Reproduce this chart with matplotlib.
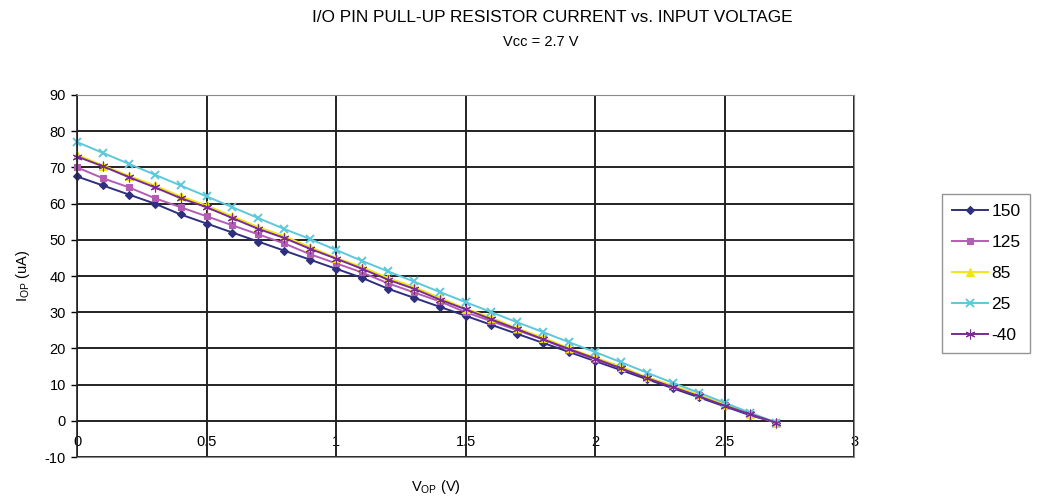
import numpy as np
import matplotlib
matplotlib.use("Agg")
import matplotlib.pyplot as plt

plt.rcParams['font.family'] = ['Liberation Sans', 'DejaVu Sans']
plt.rcParams['axes.unicode_minus'] = False

# V_OP (V), 0 .. 2.7 par pas de 0.1
v_op = [0.0, 0.1, 0.2, 0.3, 0.4, 0.5, 0.6, 0.7, 0.8, 0.9,
        1.0, 1.1, 1.2, 1.3, 1.4, 1.5, 1.6, 1.7, 1.8, 1.9,
        2.0, 2.1, 2.2, 2.3, 2.4, 2.5, 2.6, 2.7]

i_150 = [67.5, 65, 62.5, 60, 57, 54.5, 52, 49.5, 47, 44.5,
         42, 39.5, 36.5, 34, 31.5, 29, 26.5, 24, 21.5, 19,
         16.5, 14, 11.5, 9, 6.5, 4, 1.5, -0.5]
i_125 = [70, 67, 64.5, 61.5, 59, 56.5, 54, 51.5, 49, 46,
         43.5, 41, 38, 35.5, 33, 30, 27.5, 25, 22.5, 19.5,
         17, 14.5, 12, 9.5, 7, 4.3, 1.8, -0.5]
i_85 = [73.5, 70.5, 67.7, 65, 62, 59.5, 56.5, 53.5, 51, 48,
        45, 42.5, 39.5, 37, 34, 31, 28.5, 25.5, 23, 20,
        17.5, 15, 12, 9.8, 7.2, 4.5, 2, -0.5]
i_25 = [77, 74, 71, 68, 65, 62, 59, 56, 53, 50.2,
        47.2, 44.2, 41.3, 38.5, 35.6, 32.8, 30, 27.2, 24.5, 21.7,
        19, 16.2, 13.3, 10.5, 7.8, 5, 2.2, -0.5]
i_m40 = [73, 70.3, 67.3, 64.5, 61.5, 59, 56, 53, 50.5, 47.5,
         44.8, 42, 39, 36.5, 33.5, 30.8, 28, 25.3, 22.5, 19.8,
         17.2, 14.5, 11.8, 9.3, 6.8, 4.2, 1.8, -0.5]

labels = ["150", "125", "85", "25", "-40"]
x_ticks = [0, 0.5, 1, 1.5, 2, 2.5, 3]
x_tick_labels = ["0", "0.5", "1", "1.5", "2", "2.5", "3"]
y_ticks = [-10, 0, 10, 20, 30, 40, 50, 60, 70, 80, 90]

series = [i_150, i_125, i_85, i_25, i_m40]
couleurs = ["#2F2F80", "#B45CB4", "#F0E614", "#5CC8DC", "#7A2A92"]
marqueurs = ["D", "s", "^", "x", (6, 2, 0)]
tailles = [4, 5, 6, 6, 7]

fig = plt.figure(figsize=(10.41, 5.01), dpi=100)
ax = fig.add_axes([0.074, 0.0878, 0.7464, 0.7226])

for ys, lab, c, m, ms in zip(series, labels, couleurs, marqueurs, tailles):
    ax.plot(v_op, ys, color=c, marker=m, markersize=ms, linewidth=1.4,
            markeredgewidth=1.4 if m == "x" else 0.8, label=lab, clip_on=False)

ax.set_xlim(0, 3)
ax.set_ylim(-10, 90)
ax.set_yticks(y_ticks)
ax.set_xticks(x_ticks)
ax.grid(True, color="#222222", linewidth=1.4)
ax.set_axisbelow(True)

for s in ["top", "right", "bottom"]:
    ax.spines[s].set_color("#8a8a8a")
ax.spines["left"].set_color("#222222")
ax.spines["left"].set_linewidth(1.2)
ax.tick_params(axis="y", length=4, width=1, labelsize=10.5, pad=4)
ax.tick_params(axis="x", length=0, labelbottom=False)

# étiquettes de l'axe x au niveau de y = 0 (comme Excel)
sec = ax.secondary_xaxis(0.1)
sec.set_xticks(x_ticks)
sec.set_xticklabels(x_tick_labels)
sec.tick_params(length=0, labelsize=10.5, pad=10)
sec.spines["bottom"].set_visible(False)

ax.set_ylabel("I$_{\\mathregular{OP}}$ (uA)", fontsize=10.5, labelpad=9)
fig.text(0.419, 0.02, "V$_{\\mathregular{OP}}$ (V)", ha="center", fontsize=10.5)

fig.text(0.531, 0.966, "I/O PIN PULL-UP RESISTOR CURRENT vs. INPUT VOLTAGE",
         ha="center", va="center", fontsize=12.4)
fig.text(0.519, 0.917, "Vcc = 2.7 V", ha="center", va="center", fontsize=10.5)

leg = fig.legend(loc="upper left", bbox_to_anchor=(0.905, 0.613), fontsize=12.5,
                 frameon=True, fancybox=False, handlelength=2.1, borderaxespad=0,
                 handletextpad=0.2, borderpad=0.55, labelspacing=0.92)
leg.get_frame().set_edgecolor("#7a7a7a")
leg.get_frame().set_linewidth(1.0)

fig.savefig("out.png", dpi=100)
